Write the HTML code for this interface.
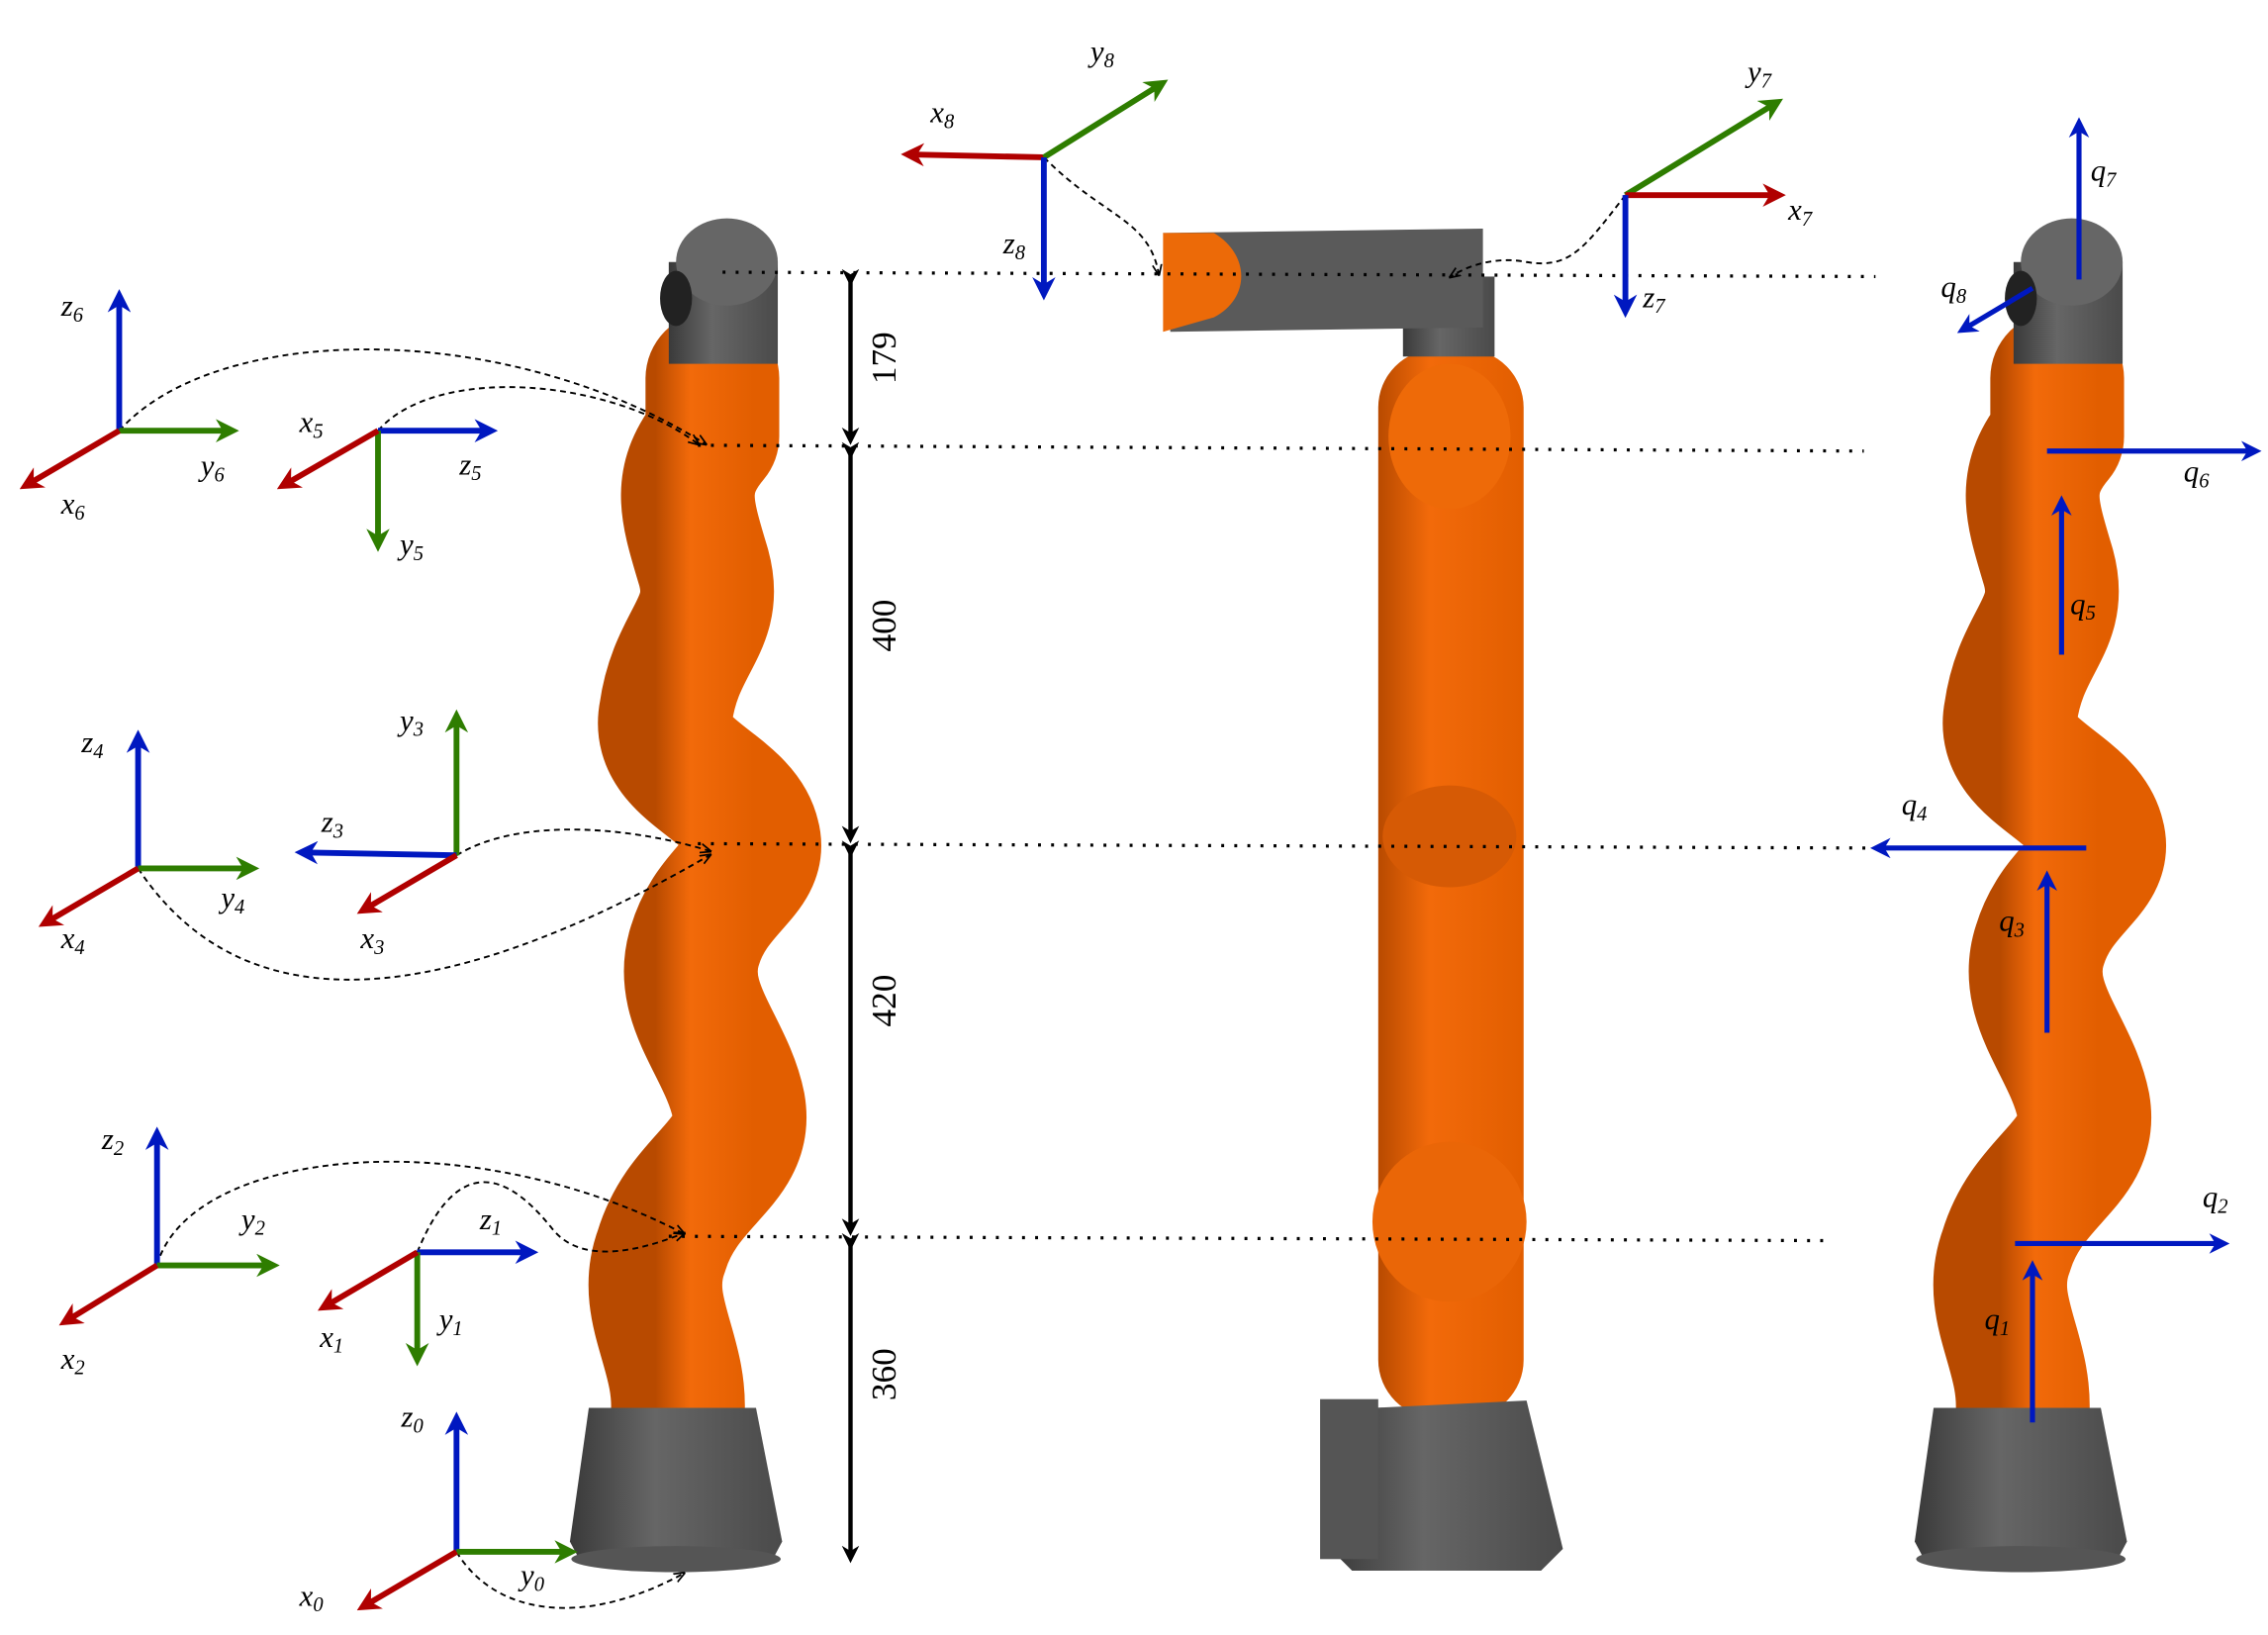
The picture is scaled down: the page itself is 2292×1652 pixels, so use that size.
<!DOCTYPE html>
<html><head><meta charset="utf-8"><style>
html,body{margin:0;padding:0;background:#fff;}
svg{display:block;}
text{font-family:"Liberation Serif",serif;font-style:italic;font-size:21px;fill:#000;}
.dim{font-style:normal;font-size:24px;}
</style></head><body>
<svg width="2292" height="1652" viewBox="0 0 1560 1124" xmlns="http://www.w3.org/2000/svg">
<defs>
<marker id="mr" viewBox="0 0 10 10" refX="6" refY="5" markerWidth="4" markerHeight="4" orient="auto"><path d="M0,0L10,5L0,10L3,5z" fill="#b00000"/></marker>
<marker id="mg" viewBox="0 0 10 10" refX="6" refY="5" markerWidth="4" markerHeight="4" orient="auto"><path d="M0,0L10,5L0,10L3,5z" fill="#2e7d00"/></marker>
<marker id="mb" viewBox="0 0 10 10" refX="6" refY="5" markerWidth="4" markerHeight="4" orient="auto"><path d="M0,0L10,5L0,10L3,5z" fill="#0018c0"/></marker>
<marker id="mk" viewBox="0 0 10 10" refX="6" refY="5" markerWidth="4" markerHeight="4" orient="auto"><path d="M0,0L10,5L0,10L3,5z" fill="#000"/></marker>
<marker id="md" viewBox="0 0 10 10" refX="8" refY="5" markerWidth="6" markerHeight="6" orient="auto"><path d="M0,1L10,5L0,9" fill="none" stroke="#000" stroke-width="1.5"/></marker>
<linearGradient id="og" x1="0" x2="1"><stop offset="0" stop-color="#b84a00"/><stop offset="0.35" stop-color="#f26a0a"/><stop offset="1" stop-color="#e25e00"/></linearGradient>
<linearGradient id="gg" x1="0" x2="1"><stop offset="0" stop-color="#3a3a3a"/><stop offset="0.4" stop-color="#666"/><stop offset="1" stop-color="#4a4a4a"/></linearGradient>
<g id="snake">
<path d="M466,975 C470,930 440,900 455,860 C470,810 515,800 508,760 C500,720 465,690 478,650 C490,610 525,600 518,575 C510,540 450,530 458,490 C465,440 495,430 484,390 C472,350 465,330 490,300 L490,260" fill="none" stroke="url(#og)" stroke-width="92" stroke-linejoin="round" stroke-linecap="round"/>
<path d="M405,968 L520,968 L538,1060 L530,1075 L400,1075 L392,1060 Z" fill="url(#gg)"/>
<ellipse cx="465" cy="1072" rx="72" ry="9" fill="#555"/>
<rect x="460" y="180" width="75" height="70" fill="url(#gg)"/>
<ellipse cx="500" cy="180" rx="35" ry="30" fill="#666"/>
<ellipse cx="465" cy="205" rx="11" ry="19" fill="#222"/>
</g>
</defs>
<rect width="1560" height="1124" fill="#fff"/>

<use href="#snake"/>
<use href="#snake" transform="translate(925,0)"/>
<g>
<rect x="948" y="240" width="100" height="735" rx="40" fill="url(#og)"/>
<ellipse cx="997" cy="300" rx="42" ry="50" fill="#ee6a08"/>
<ellipse cx="997" cy="575" rx="46" ry="35" fill="#d65a05"/>
<ellipse cx="997" cy="840" rx="53" ry="55" fill="#ea6607"/>
<path d="M945,968 L1050,963 L1075,1065 L1060,1080 L930,1080 L915,1065 Z" fill="url(#gg)"/>
<rect x="908" y="962" width="40" height="110" fill="#555"/>
<rect x="965" y="190" width="63" height="55" fill="url(#gg)"/>
<path d="M800,160 L1020,157 L1020,225 L805,228 Z" fill="#5a5a5a"/>
<path d="M800,160 L835,160 C860,175 860,205 835,218 L800,228 Z" fill="#ec6a08"/>
</g>

<g stroke="#000" stroke-width="2.2" stroke-dasharray="2,7">
<line x1="497" y1="187" x2="1290" y2="190"/>
<line x1="480" y1="306" x2="1282" y2="310"/>
<line x1="480" y1="580" x2="1285" y2="583"/>
<line x1="460" y1="850" x2="1258" y2="853"/>
</g>

<g stroke="#000" stroke-width="3">
<line x1="585" y1="192" x2="585" y2="301" marker-start="url(#mk)" marker-end="url(#mk)"/>
<line x1="585" y1="311" x2="585" y2="575" marker-start="url(#mk)" marker-end="url(#mk)"/>
<line x1="585" y1="585" x2="585" y2="845" marker-start="url(#mk)" marker-end="url(#mk)"/>
<line x1="585" y1="855" x2="585" y2="1070" marker-start="url(#mk)" marker-end="url(#mk)"/>
</g>
<text class="dim" transform="translate(616,246) rotate(-90)" text-anchor="middle">179</text>
<text class="dim" transform="translate(616,430) rotate(-90)" text-anchor="middle">400</text>
<text class="dim" transform="translate(616,688) rotate(-90)" text-anchor="middle">420</text>
<text class="dim" transform="translate(616,945) rotate(-90)" text-anchor="middle">360</text>

<g fill="none" stroke="#000" stroke-width="1.3" stroke-dasharray="4,3">
<path d="M82,296 C150,220 350,220 485,305" marker-end="url(#md)"/>
<path d="M260,296 C300,250 420,260 480,305" marker-end="url(#md)"/>
<path d="M314,588 C360,560 440,570 488,585" marker-end="url(#md)"/>
<path d="M95,597 C150,680 260,720 488,588" marker-end="url(#md)"/>
<path d="M108,870 C130,790 320,770 470,848" marker-end="url(#md)"/>
<path d="M287,861 C320,780 360,820 380,845 C400,870 440,860 470,848" marker-end="url(#md)"/>
<path d="M314,1067 C340,1110 400,1120 470,1082" marker-end="url(#md)"/>
<path d="M718,108 C760,150 790,150 797,188" marker-end="url(#md)"/>
<path d="M1118,134 C1090,170 1080,185 1050,180 C1030,176 1010,182 998,190" marker-end="url(#md)"/>
</g>

<g stroke-width="4" fill="none">
<line x1="82" y1="296" x2="82" y2="205" stroke="#0018c0" marker-end="url(#mb)"/>
<line x1="82" y1="296" x2="158" y2="296" stroke="#2e7d00" marker-end="url(#mg)"/>
<line x1="82" y1="296" x2="19" y2="333" stroke="#b00000" marker-end="url(#mr)"/>
<line x1="260" y1="296" x2="336" y2="296" stroke="#0018c0" marker-end="url(#mb)"/>
<line x1="260" y1="296" x2="260" y2="373" stroke="#2e7d00" marker-end="url(#mg)"/>
<line x1="260" y1="296" x2="196" y2="333" stroke="#b00000" marker-end="url(#mr)"/>
<line x1="95" y1="597" x2="95" y2="508" stroke="#0018c0" marker-end="url(#mb)"/>
<line x1="95" y1="597" x2="172" y2="597" stroke="#2e7d00" marker-end="url(#mg)"/>
<line x1="95" y1="597" x2="32" y2="634" stroke="#b00000" marker-end="url(#mr)"/>
<line x1="314" y1="588" x2="314" y2="494" stroke="#2e7d00" marker-end="url(#mg)"/>
<line x1="314" y1="588" x2="209" y2="586" stroke="#0018c0" marker-end="url(#mb)"/>
<line x1="314" y1="588" x2="251" y2="625" stroke="#b00000" marker-end="url(#mr)"/>
<line x1="108" y1="870" x2="108" y2="781" stroke="#0018c0" marker-end="url(#mb)"/>
<line x1="108" y1="870" x2="186" y2="870" stroke="#2e7d00" marker-end="url(#mg)"/>
<line x1="108" y1="870" x2="46" y2="908" stroke="#b00000" marker-end="url(#mr)"/>
<line x1="287" y1="861" x2="364" y2="861" stroke="#0018c0" marker-end="url(#mb)"/>
<line x1="287" y1="861" x2="287" y2="933" stroke="#2e7d00" marker-end="url(#mg)"/>
<line x1="287" y1="861" x2="224" y2="898" stroke="#b00000" marker-end="url(#mr)"/>
<line x1="314" y1="1067" x2="314" y2="977" stroke="#0018c0" marker-end="url(#mb)"/>
<line x1="314" y1="1067" x2="391" y2="1067" stroke="#2e7d00" marker-end="url(#mg)"/>
<line x1="314" y1="1067" x2="251" y2="1104" stroke="#b00000" marker-end="url(#mr)"/>
<line x1="718" y1="108" x2="626" y2="106" stroke="#b00000" marker-end="url(#mr)"/>
<line x1="718" y1="108" x2="798" y2="58" stroke="#2e7d00" marker-end="url(#mg)"/>
<line x1="718" y1="108" x2="718" y2="200" stroke="#0018c0" marker-end="url(#mb)"/>
<line x1="1118" y1="134" x2="1221" y2="71" stroke="#2e7d00" marker-end="url(#mg)"/>
<line x1="1118" y1="134" x2="1222" y2="134" stroke="#b00000" marker-end="url(#mr)"/>
<line x1="1118" y1="134" x2="1118" y2="212" stroke="#0018c0" marker-end="url(#mb)"/>
</g>
<g stroke="#0018c0" stroke-width="3.5" fill="none">
<line x1="1430" y1="192" x2="1430" y2="86" marker-end="url(#mb)"/>
<line x1="1398" y1="198" x2="1351" y2="226" marker-end="url(#mb)"/>
<line x1="1408" y1="310" x2="1550" y2="310" marker-end="url(#mb)"/>
<line x1="1418" y1="450" x2="1418" y2="346" marker-end="url(#mb)"/>
<line x1="1435" y1="583" x2="1292" y2="583" marker-end="url(#mb)"/>
<line x1="1408" y1="710" x2="1408" y2="604" marker-end="url(#mb)"/>
<line x1="1386" y1="855" x2="1528" y2="855" marker-end="url(#mb)"/>
<line x1="1398" y1="978" x2="1398" y2="872" marker-end="url(#mb)"/>
</g>

<g>
<text x="42" y="217">z<tspan font-size="14" dy="4">6</tspan></text>
<text x="138" y="327">y<tspan font-size="14" dy="4">6</tspan></text>
<text x="42" y="353">x<tspan font-size="14" dy="4">6</tspan></text>
<text x="206" y="297">x<tspan font-size="14" dy="4">5</tspan></text>
<text x="316" y="326">z<tspan font-size="14" dy="4">5</tspan></text>
<text x="275" y="381">y<tspan font-size="14" dy="4">5</tspan></text>
<text x="56" y="517">z<tspan font-size="14" dy="4">4</tspan></text>
<text x="152" y="624">y<tspan font-size="14" dy="4">4</tspan></text>
<text x="42" y="652">x<tspan font-size="14" dy="4">4</tspan></text>
<text x="275" y="502">y<tspan font-size="14" dy="4">3</tspan></text>
<text x="221" y="572">z<tspan font-size="14" dy="4">3</tspan></text>
<text x="248" y="652">x<tspan font-size="14" dy="4">3</tspan></text>
<text x="70" y="790">z<tspan font-size="14" dy="4">2</tspan></text>
<text x="166" y="845">y<tspan font-size="14" dy="4">2</tspan></text>
<text x="42" y="941">x<tspan font-size="14" dy="4">2</tspan></text>
<text x="330" y="845">z<tspan font-size="14" dy="4">1</tspan></text>
<text x="302" y="914">y<tspan font-size="14" dy="4">1</tspan></text>
<text x="220" y="926">x<tspan font-size="14" dy="4">1</tspan></text>
<text x="276" y="981">z<tspan font-size="14" dy="4">0</tspan></text>
<text x="358" y="1090">y<tspan font-size="14" dy="4">0</tspan></text>
<text x="206" y="1104">x<tspan font-size="14" dy="4">0</tspan></text>
<text x="640" y="84">x<tspan font-size="14" dy="4">8</tspan></text>
<text x="750" y="42">y<tspan font-size="14" dy="4">8</tspan></text>
<text x="690" y="174">z<tspan font-size="14" dy="4">8</tspan></text>
<text x="1202" y="56">y<tspan font-size="14" dy="4">7</tspan></text>
<text x="1230" y="151">x<tspan font-size="14" dy="4">7</tspan></text>
<text x="1130" y="211">z<tspan font-size="14" dy="4">7</tspan></text>
<text x="1438" y="124">q<tspan font-size="14" dy="4">7</tspan></text>
<text x="1335" y="204">q<tspan font-size="14" dy="4">8</tspan></text>
<text x="1502" y="331">q<tspan font-size="14" dy="4">6</tspan></text>
<text x="1424" y="422">q<tspan font-size="14" dy="4">5</tspan></text>
<text x="1308" y="560">q<tspan font-size="14" dy="4">4</tspan></text>
<text x="1375" y="640">q<tspan font-size="14" dy="4">3</tspan></text>
<text x="1515" y="830">q<tspan font-size="14" dy="4">2</tspan></text>
<text x="1365" y="914">q<tspan font-size="14" dy="4">1</tspan></text>
</g>
</svg>
</body></html>
